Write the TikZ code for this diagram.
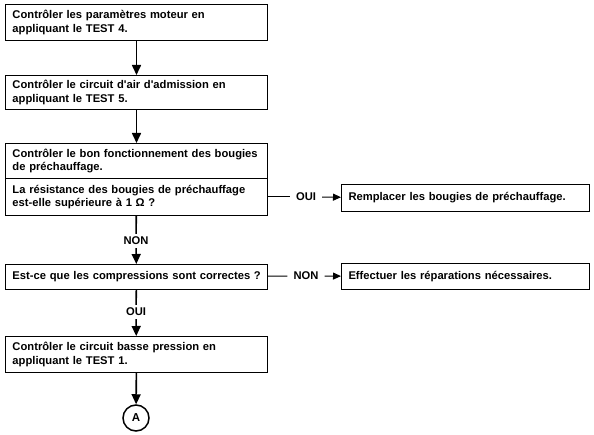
\documentclass[tikz,border=0pt]{standalone}
\usepackage{fontspec}
\setmainfont{Liberation Sans}
\usetikzlibrary{arrows.meta}

\tikzset{
  stepbox/.style={draw, line width=1pt, anchor=north west, minimum width=262pt,
    text width=248pt, align=left, inner sep=0pt,
    font=\bfseries\fontsize{11.2}{13.5}\selectfont},
  sidebox/.style={stepbox, minimum width=248pt, text width=234pt},
  lbl/.style={inner xsep=6pt, inner ysep=3pt, font=\bfseries\fontsize{11.2}{13.5}\selectfont},
  flow/.style={line width=1.6pt, -{Triangle[width=9pt,length=10pt]}},
  sideflow/.style={line width=1pt, -{Triangle[width=7pt,length=8pt]}},
  plain/.style={line width=1pt},
  stem/.style={line width=1.6pt},
}

\begin{document}
\begin{tikzpicture}[x=1pt,y=-1pt]
            \useasboundingbox (0,0) rectangle (594,435);
            \node[stepbox, minimum height=36pt] (moteur) at (5,4) {Contrôler les paramètres moteur en\\appliquant le TEST 4.};
            \node[stepbox, minimum height=34pt] (air) at (5,75) {Contrôler le circuit d\textquotesingle air d\textquotesingle admission en\\appliquant le TEST 5.};
            \node[stepbox, minimum height=35pt] (bougies) at (5,143) {Contrôler le bon fonctionnement des bougies\\de préchauffage.};
            \node[stepbox, minimum height=37pt] (resist) at (5,178) {La résistance des bougies de préchauffage\\est-elle supérieure à 1 Ω ?};
            \node[sidebox, minimum height=27pt] (remplacer) at (341,184) {Remplacer les bougies de préchauffage.};
            \node[stepbox, minimum height=25pt] (compress) at (5,264) {\mbox{Est-ce que les compressions sont correctes ?}};
            \node[sidebox, minimum height=26pt] (repar) at (341,263) {Effectuer les réparations nécessaires.};
            \node[stepbox, minimum height=36pt] (bp) at (5,336) {Contrôler le circuit basse pression en\\appliquant le TEST 1.};
            \node[draw, circle, line width=1.5pt, minimum size=26pt, inner sep=0pt, font=\bfseries\fontsize{11.5}{13}\selectfont] (A) at (136,418) {A};
            \node[lbl] (oui1) at (306,197) {OUI};
            \node[lbl] (non1) at (136,241) {NON};
            \node[lbl] (non2) at (306,276) {NON};
            \node[lbl] (oui2) at (136,312) {OUI};
            \draw[flow] (moteur) -- (air);
            \draw[flow] (air) -- (bougies);
            \draw[plain] (resist) -- (oui1);
            \draw[sideflow] (oui1) -- (remplacer);
            \draw[stem] (resist) -- (non1);
            \draw[flow] (non1) -- (compress);
            \draw[plain] (compress) -- (non2);
            \draw[sideflow] (non2) -- (repar);
            \draw[stem] (compress) -- (oui2);
            \draw[flow] (oui2) -- (bp);
            \draw[flow] (bp) -- (A);
        \end{tikzpicture}
\end{document}
